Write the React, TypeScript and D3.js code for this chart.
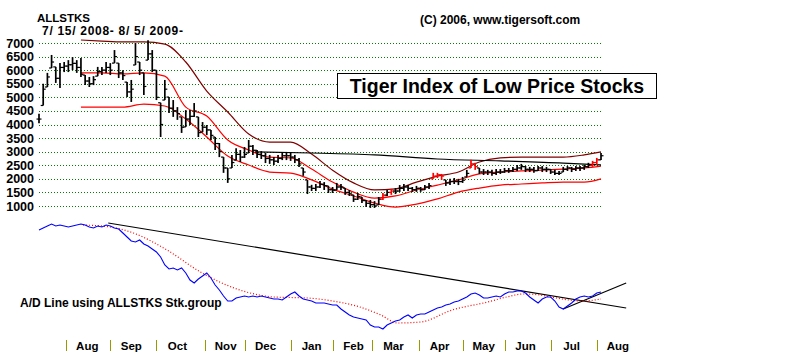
import React from "react";
import * as d3 from "d3";

const W = 800;
const H = 361;

// Price axis ticks
const priceTicks = [1000, 1500, 2000, 2500, 3000, 3500, 4000, 4500, 5000, 5500, 6000, 6500, 7000];

// Month ticks (trading-day index from 7/15/2008)
const monthNames = ["Aug", "Sep", "Oct", "Nov", "Dec", "Jan", "Feb", "Mar", "Apr", "May", "Jun", "Jul", "Aug"];
const monthDays = [13, 34, 56, 79, 98, 120, 140, 159, 181, 202, 222, 244, 266];

// Price bars, one per two trading days
const barHigh = [
  4400, 5500, 5900, 6560, 6120, 6260, 6300, 6370, 6480, 6370, 6450, 5820, 5750, 5780, 6120, 6120, 6300, 6260, 6740, 6260,
  6000, 5560, 5640, 7000, 6300, 5900, 7100, 6740, 6000, 4800, 5640, 5010, 4900, 4640, 4280, 4530, 4530, 4790, 4280, 4090,
  3980, 3800, 3540, 3320, 2800, 2400, 2880, 3130, 3060, 3170, 3430, 3250, 3060, 3020, 2950, 2880, 2800, 2880, 2950, 2990,
  2950, 2880, 2770, 2400, 1960, 1780, 1810, 1920, 1880, 1740, 1700, 1850, 1810, 1660, 1590, 1410, 1480, 1330, 1220, 1220,
  1180, 1330, 1480, 1590, 1630, 1660, 1770, 1810, 1770, 1700, 1740, 1700, 1770, 1850, 2220, 2220, 2180, 1960, 2000, 2030,
  2000, 2070, 2330, 2700, 2590, 2400, 2360, 2330, 2330, 2360, 2360, 2400, 2400, 2440, 2510, 2550, 2470, 2440, 2440, 2470,
  2470, 2440, 2360, 2330, 2290, 2440, 2470, 2440, 2470, 2470, 2510, 2590, 2660, 2770, 2950,
];
const barLow = [
  4050, 4700, 5380, 6080, 5530, 5340, 5930, 5930, 6000, 5900, 5750, 5450, 5380, 5450, 5780, 5820, 5900, 5820, 6260, 5710,
  5640, 5010, 4830, 6190, 5820, 5090, 6370, 5930, 4900, 3540, 4900, 4420, 4280, 4170, 3690, 3910, 3980, 4280, 3540, 3720,
  3610, 3430, 3060, 2800, 2220, 1850, 2400, 2690, 2620, 2770, 2950, 2880, 2770, 2730, 2580, 2550, 2510, 2580, 2690, 2690,
  2660, 2580, 2440, 2110, 1440, 1550, 1550, 1660, 1590, 1480, 1480, 1590, 1590, 1410, 1370, 1150, 1220, 1110, 960, 930,
  930, 1040, 1220, 1370, 1410, 1440, 1520, 1550, 1550, 1520, 1520, 1520, 1590, 1630, 2000, 2030, 1960, 1740, 1770, 1810,
  1770, 1850, 2070, 2400, 2330, 2180, 2140, 2140, 2110, 2140, 2180, 2220, 2220, 2250, 2290, 2330, 2250, 2250, 2220, 2290,
  2250, 2250, 2180, 2140, 2140, 2250, 2290, 2250, 2290, 2290, 2330, 2400, 2440, 2510, 2690,
];
const barClose = [
  4200, 5300, 5750, 6300, 5700, 6100, 6150, 6200, 6250, 6100, 5850, 5600, 5500, 5650, 5950, 6000, 6100, 6000, 6500, 5900,
  5800, 5200, 5300, 6500, 6000, 5400, 6600, 6000, 5000, 4000, 5300, 4600, 4500, 4400, 3900, 4200, 4300, 4500, 3700, 3900,
  3800, 3600, 3300, 3000, 2400, 2000, 2600, 2900, 2800, 2900, 3200, 3050, 2900, 2850, 2750, 2700, 2650, 2750, 2850, 2850,
  2800, 2700, 2550, 2250, 1700, 1650, 1700, 1800, 1750, 1600, 1580, 1700, 1700, 1500, 1450, 1250, 1350, 1200, 1100, 1050,
  1000, 1250, 1400, 1500, 1550, 1550, 1650, 1700, 1650, 1600, 1650, 1600, 1700, 1750, 2100, 2150, 2100, 1850, 1900, 1900,
  1900, 1950, 2200, 2550, 2450, 2250, 2250, 2250, 2200, 2250, 2250, 2300, 2300, 2350, 2400, 2450, 2350, 2350, 2300, 2400,
  2350, 2350, 2250, 2200, 2200, 2350, 2400, 2350, 2400, 2400, 2450, 2500, 2600, 2700, 2850,
];
const redBars = [82, 84, 94, 95, 96, 103, 104, 132, 133];

// Bands
const bandDays = [20, 30, 40, 50, 60, 70, 80, 90, 100, 110, 120, 130, 140, 150, 160, 170, 180, 190, 200, 210, 220, 230, 240, 250, 260, 268];
const bandUpper = [7110, 7070, 7040, 7040, 6960, 6300, 5230, 4460, 3650, 3350, 3350, 2910, 2320, 1850, 1590, 1630, 1880, 2100, 2250, 2620, 2770, 2800, 2800, 2800, 2880, 2990];
const bandMiddle = [5900, 5900, 5860, 5900, 5780, 4640, 4310, 3430, 3060, 2800, 2770, 2360, 1880, 1510, 1290, 1370, 1590, 1770, 1960, 2180, 2250, 2290, 2320, 2360, 2400, 2470];
const bandLower = [4640, 4640, 4640, 4750, 4680, 4200, 3540, 2840, 2510, 2250, 2210, 1960, 1620, 1370, 1110, 960, 1070, 1260, 1510, 1660, 1770, 1810, 1850, 1880, 1880, 2000];

// Long moving average
const maDays = [103, 130, 160, 190, 220, 250, 268];
const maValues = [2990, 2950, 2880, 2730, 2660, 2580, 2510];

// A/D line, one value per two trading days
const adValues = [
  0, 100, 200, 300, 200, 250, 200, 150, 200, 250, 300, 250, 150, 100, 200, 150, 250, 200, 100, 50,
  -150, -350, -550, -600, -500, -700, -800, -950, -1100, -1350, -1750, -1950, -1900, -2000, -1900, -2150, -2500, -2650, -2450, -2300,
  -2150, -2400, -2750, -3000, -3300, -3550, -3550, -3400, -3350, -3300, -3350, -3300, -3350, -3300, -3350, -3400, -3450, -3450, -3500, -3350,
  -3200, -3100, -3300, -3450, -3500, -3550, -3650, -3650, -3650, -3700, -3750, -3750, -3950, -4100, -4250, -4350, -4400, -4450, -4500, -4750,
  -4850, -4850, -4950, -4750, -4650, -4550, -4500, -4350, -4250, -4400, -4250, -4200, -4200, -4100, -4000, -3900, -3850, -3750, -3700, -3600,
  -3550, -3450, -3350, -3200, -3150, -3250, -3400, -3400, -3350, -3300, -3350, -3200, -3100, -3100, -3050, -3050, -3150, -3350, -3500, -3650,
  -3450, -3350, -3350, -3550, -3850, -3950, -3800, -3650, -3450, -3350, -3300, -3350, -3300, -3150, -3100,
];
const adMaDays = [21, 34, 45, 61, 77, 93, 105, 112, 128, 140, 153, 163, 171, 182, 197, 214, 223, 231, 239, 244, 259, 268];
const adMaValues = [250, 150, -150, -1000, -2100, -2900, -3250, -3350, -3400, -3550, -3850, -4250, -4650, -4600, -4000, -3600, -3350, -3200, -3250, -3350, -3550, -3450];

// Trend lines on A/D [day, value]
const trendDown = [[33, 350], [280, -3900]];
const trendUp = [[250, -3950], [280, -2650]];

const FONT = "'Liberation Sans', Arial, sans-serif";

export default function App() {
  const x = d3.scaleLinear().domain([0, 268]).range([39, 601]);
  const y = d3.scaleLinear().domain([1000, 7000]).range([206, 43]);
  const yAd = d3.scaleLinear().domain([-5500, 500]).range([340, 220]);

  const bandLine = (vals: number[]) =>
    d3
      .line<number>()
      .x((_, i) => x(bandDays[i]))
      .y((v) => y(v))
      .curve(d3.curveMonotoneX)(vals) as string;

  const maLine = d3
    .line<number>()
    .x((_, i) => x(maDays[i]))
    .y((v) => y(v))
    .curve(d3.curveMonotoneX)(maValues) as string;

  const adLine = d3
    .line<number>()
    .x((_, i) => x(i * 2))
    .y((v) => yAd(v))(adValues) as string;

  const adMaLine = d3
    .line<number>()
    .x((_, i) => x(adMaDays[i]))
    .y((v) => yAd(v))
    .curve(d3.curveMonotoneX)(adMaValues) as string;

  const tl = (pts: number[][]) =>
    d3
      .line<number[]>()
      .x((p) => x(p[0]))
      .y((p) => yAd(p[1]))(pts) as string;

  return (
    <svg
      width={W}
      height={H}
      style={{ position: "absolute", left: 0, top: 0, background: "#fff" }}
      fontFamily={FONT}
    >
      <rect x={0} y={0} width={W} height={H} fill="#fff" />
      {/* grid */}
      {priceTicks.map((t) => (
        <g key={t}>
          <line
            x1={39}
            x2={601}
            y1={Math.round(y(t)) + 0.5}
            y2={Math.round(y(t)) + 0.5}
            stroke="#008000"
            strokeDasharray="1,2"
          />
          <text x={34} y={y(t) + 4.5} textAnchor="end" fontSize={12.5} fontWeight="bold" fill="#000">
            {t}
          </text>
        </g>
      ))}

      {/* header */}
      <text x={37} y={21.5} fontSize={11.5} fontWeight="bold">ALLSTKS</text>
      <text x={42} y={35} fontSize={12} fontWeight="bold" textLength={141} lengthAdjust="spacing">
        7/ 15/ 2008- 8/ 5/ 2009-
      </text>
      <text x={420} y={24} fontSize={12} fontWeight="bold">(C) 2006, www.tigersoft.com</text>
      <rect x={337.5} y={73.5} width={319} height={25} fill="#fff" stroke="#000" />
      <text x={497} y={93} textAnchor="middle" fontSize={19.5} fontWeight="bold">
        Tiger Index of Low Price Stocks
      </text>

      {/* bands */}
      <path d={bandLine(bandUpper)} fill="none" stroke="#800000" strokeWidth={1.2} />
      <path d={bandLine(bandMiddle)} fill="none" stroke="#ff0000" strokeWidth={1.2} />
      <path d={bandLine(bandLower)} fill="none" stroke="#ff0000" strokeWidth={1.2} />
      <path d={maLine} fill="none" stroke="#000" strokeWidth={1.2} />

      {/* bars */}
      {barHigh.map((h, i) => {
        const cx = x(i * 2);
        const open = i > 0 ? barClose[i - 1] : barClose[i];
        const openC = Math.min(Math.max(open, barLow[i]), barHigh[i]);
        const col = redBars.includes(i) ? "#ff0000" : "#000";
        return (
          <g key={i} stroke={col}>
            <line x1={cx} x2={cx} y1={y(h)} y2={y(barLow[i])} strokeWidth={1.7} />
            <line x1={cx - 2.5} x2={cx} y1={y(openC)} y2={y(openC)} strokeWidth={1.2} />
            <line x1={cx} x2={cx + 2.5} y1={y(barClose[i])} y2={y(barClose[i])} strokeWidth={1.2} />
          </g>
        );
      })}

      {/* A/D panel */}
      <path d={tl(trendDown)} fill="none" stroke="#000" strokeWidth={1.2} />
      <path d={tl(trendUp)} fill="none" stroke="#000" strokeWidth={1.2} />
      <path d={adMaLine} fill="none" stroke="#ff0000" strokeWidth={1.2} strokeDasharray="1,2" />
      <path d={adLine} fill="none" stroke="#0000ff" strokeWidth={1.1} />
      <text x={20} y={307} fontSize={12} fontWeight="bold">A/D Line using ALLSTKS Stk.group</text>

      {/* month axis */}
      {monthDays.map((d, i) => (
        <g key={i}>
          <line
            x1={Math.round(x(d)) + 0.5}
            x2={Math.round(x(d)) + 0.5}
            y1={340}
            y2={351}
            stroke="#999900"
          />
          <text x={x(d) + 21} y={350} textAnchor="middle" fontSize={11.5} fontWeight="bold">
            {monthNames[i]}
          </text>
        </g>
      ))}
    </svg>
  );
}
